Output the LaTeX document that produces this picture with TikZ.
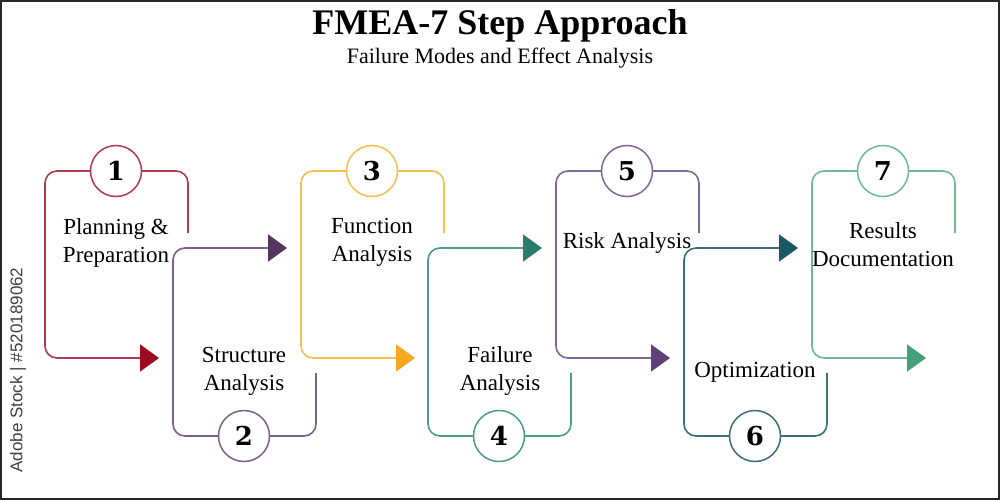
\documentclass[tikz,border=0pt]{standalone}
\usepackage{fontspec}
\setmainfont{Liberation Serif}
\newfontfamily\numfont{DejaVu Serif}
\newfontfamily\wmfont{Liberation Sans}
\usetikzlibrary{arrows.meta}
\definecolor{l1}{HTML}{B03A4E} \definecolor{a1}{HTML}{9E0A1F}
\definecolor{l2}{HTML}{7E5E8A} \definecolor{a2}{HTML}{56365F}
\definecolor{l3}{HTML}{F6C04E} \definecolor{a3}{HTML}{F5A81E}
\definecolor{l4}{HTML}{4E9B88} \definecolor{a4}{HTML}{2D7B69}
\definecolor{l5}{HTML}{7F6894} \definecolor{a5}{HTML}{5F4179}
\definecolor{l6}{HTML}{3E6E78} \definecolor{a6}{HTML}{1C5862}
\definecolor{l7}{HTML}{6FB89A} \definecolor{a7}{HTML}{42A07A}
\tikzset{
  flow/.style={line width=1.6pt, rounded corners=12pt},
  tipto/.style={-{Triangle[length=19pt,width=27pt,color=#1]}},
  numcirc/.style={circle, draw=#1, fill=white, line width=1.5pt, minimum size=51pt, inner sep=0pt,
    font=\numfont\bfseries\fontsize{26}{26}\selectfont},
  lbl/.style={align=center, font=\fontsize{23}{28}\selectfont},
}
\begin{document}
\begin{tikzpicture}[x=1pt,y=-1pt]
\useasboundingbox (0,0) rectangle (1000,500);
\fill[white] (0,0) rectangle (1000,500);
\draw[line width=2pt, black!85] (1,1) rectangle (999,499);

% title
\node[font=\bfseries\fontsize{36}{40}\selectfont, anchor=base] (title) at (500,35) {FMEA-7 Step Approach};
\node[font=\fontsize{22}{26}\selectfont, anchor=base] (sub) at (500,64) {Failure Modes and Effect Analysis};

% side stock text
\node[rotate=90, font=\wmfont\fontsize{17}{17}\selectfont, text=black!75] (stock) at (18,370) {Adobe Stock | \#520189062};

% step 1 (odd)
\draw[flow, draw=l1, tipto=a1] (188,233) -- (188,171) -- (45,171) -- (45,358) -- (159,358);
% step 2 (even)
\draw[flow, draw=l2, tipto=a2] (316,373) -- (316,436) -- (173,436) -- (173,248) -- (287,248);
% step 3
\draw[flow, draw=l3, tipto=a3] (444,233) -- (444,171) -- (301,171) -- (301,358) -- (415,358);
% step 4
\draw[flow, draw=l4, tipto=a4] (571,373) -- (571,436) -- (428,436) -- (428,248) -- (542,248);
% step 5
\draw[flow, draw=l5, tipto=a5] (699,233) -- (699,171) -- (556,171) -- (556,358) -- (670,358);
% step 6
\draw[flow, draw=l6, tipto=a6] (827,373) -- (827,436) -- (684,436) -- (684,248) -- (798,248);
% step 7
\draw[flow, draw=l7, tipto=a7] (955,233) -- (955,171) -- (812,171) -- (812,358) -- (926,358);

% number circles
\node[numcirc=l1] (n1) at (116,171) {1};
\node[numcirc=l2] (n2) at (244,436) {2};
\node[numcirc=l3] (n3) at (372,171) {3};
\node[numcirc=l4] (n4) at (499,436) {4};
\node[numcirc=l5] (n5) at (627,171) {5};
\node[numcirc=l6] (n6) at (755,436) {6};
\node[numcirc=l7] (n7) at (883,171) {7};

% labels
\node[lbl] (t1) at (116,243) {Planning \&\\Preparation};
\node[lbl] (t2) at (244,371) {Structure\\Analysis};
\node[lbl] (t3) at (372,242) {Function\\Analysis};
\node[lbl] (t4) at (500,371) {Failure\\Analysis};
\node[lbl] (t5) at (627,243) {Risk Analysis};
\node[lbl] (t6) at (755,372) {Optimization};
\node[lbl] (t7) at (883,245) {Results\\Documentation};
\end{tikzpicture}
\end{document}
